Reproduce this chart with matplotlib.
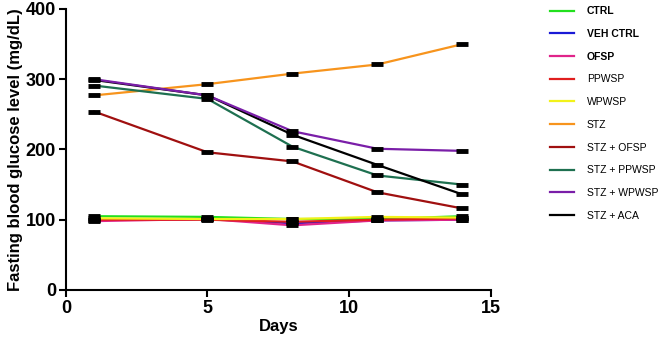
import numpy as np
import matplotlib
matplotlib.use("Agg")
import matplotlib.pyplot as plt
from matplotlib.lines import Line2D

plt.rcParams['font.family'] = ['Liberation Sans', 'DejaVu Sans']

days = [1, 5, 8, 11, 14]
groups = ['CTRL', 'VEH CTRL', 'OFSP', 'PPWSP', 'WPWSP', 'STZ',
          'STZ + OFSP', 'STZ + PPWSP', 'STZ + WPWSP', 'STZ + ACA']
colors = ['#22e01e', '#1a1ad6', '#e0248a', '#e01e1e', '#f2f21a', '#f7941d',
          '#a01010', '#1e7050', '#7a1ea8', '#000000']
bold_labels = ['CTRL', 'VEH CTRL', 'OFSP']

ctrl = [105, 104, 101, 101, 105]
veh_ctrl = [100, 101, 95, 99, 100]
ofsp = [98, 101, 92, 99, 100]
ppwsp = [100, 100, 97, 100, 102]
wpwsp = [102, 101, 101, 104, 103]
stz = [277, 293, 308, 321, 350]
stz_ofsp = [254, 196, 183, 139, 116]
stz_ppwsp = [291, 272, 204, 163, 150]
stz_wpwsp = [300, 277, 226, 201, 198]
stz_aca = [299, 277, 221, 178, 136]

series = [ctrl, veh_ctrl, ofsp, ppwsp, wpwsp, stz,
          stz_ofsp, stz_ppwsp, stz_wpwsp, stz_aca]
zorders = [3, 3, 3, 3, 3, 3, 3, 3, 4, 3.5]

fig = plt.figure(figsize=(6.65, 3.46), dpi=100)
ax = fig.add_axes([0.099, 0.162, 0.639, 0.812])

for vals, col, z in zip(series, colors, zorders):
    ax.plot(days, vals, color=col, lw=1.6, zorder=z)
    ax.plot(days, vals, ls='none', marker='_', ms=9, mew=3.5,
            color='black', zorder=5)

ax.set_xlim(0, 15)
ax.set_ylim(0, 400)
ax.set_xticks([0, 5, 10, 15])
ax.set_yticks([0, 100, 200, 300, 400])
for s in ['top', 'right']:
    ax.spines[s].set_visible(False)
for s in ['left', 'bottom']:
    ax.spines[s].set_linewidth(1.5)
ax.tick_params(width=1.5, length=5, labelsize=13, pad=2)
for lab in ax.get_xticklabels() + ax.get_yticklabels():
    lab.set_fontweight('bold')
ax.set_xlabel('Days', fontsize=12, fontweight='bold', labelpad=2)
ax.set_ylabel('Fasting blood glucose level (mg/dL)', fontsize=12,
              fontweight='bold', labelpad=2)

handles = [Line2D([0], [0], color=c, lw=1.6) for c in colors]
leg = fig.legend(handles, groups, loc='upper left',
                 bbox_to_anchor=(0.818, 1.0), frameon=False,
                 fontsize=7.5, handlelength=2.3, handletextpad=1.2,
                 labelspacing=1.22, borderaxespad=0.2)
for t in leg.get_texts():
    if t.get_text() in bold_labels:
        t.set_fontweight('bold')

fig.savefig('out.png', dpi=100)
